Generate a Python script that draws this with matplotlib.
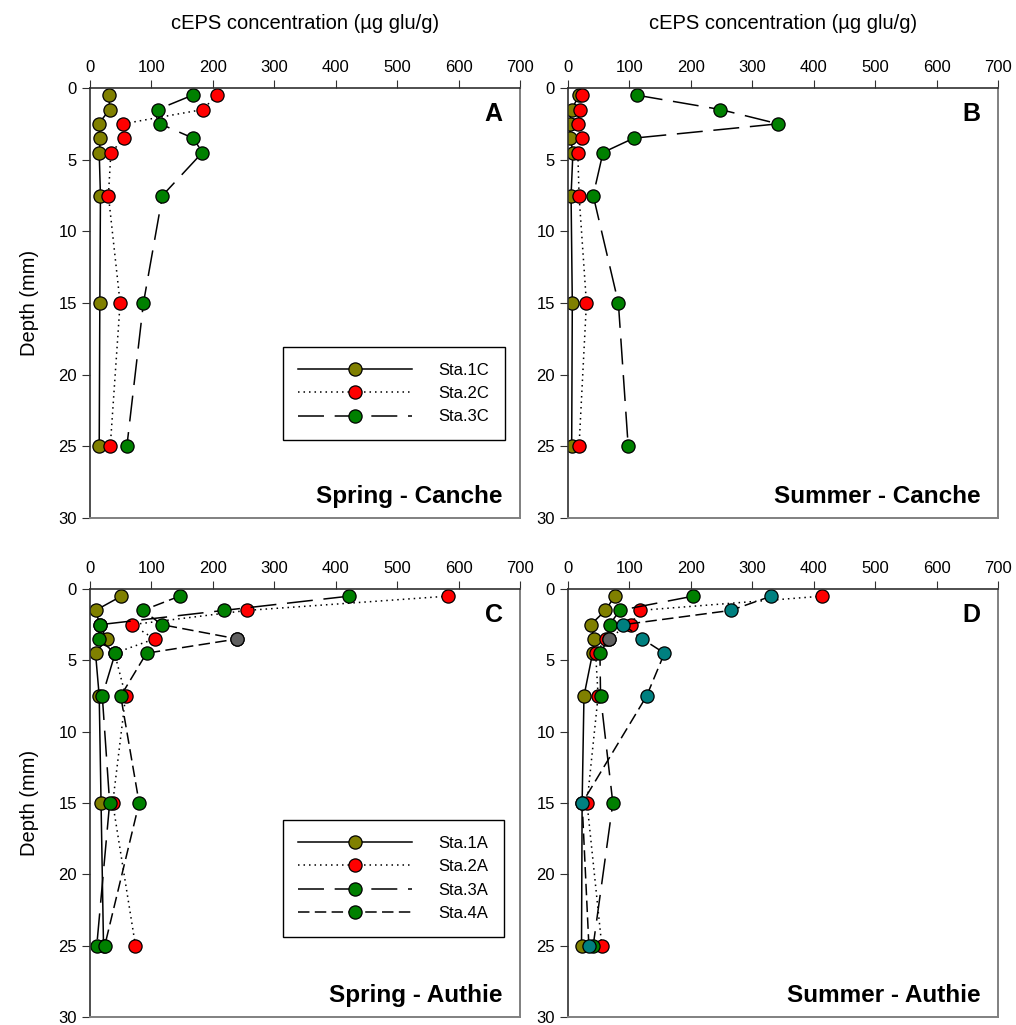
import matplotlib
matplotlib.use("Agg")
import matplotlib.pyplot as plt

plt.rcParams['font.family'] = ['Liberation Sans', 'DejaVu Sans']

depth = [0.5, 1.5, 2.5, 3.5, 4.5, 7.5, 15, 25]

# Spring - Canche
a_sta1c = [31, 32, 14, 17, 15, 17, 16, 15]
a_sta2c = [206, 184, 54, 56, 34, 30, 49, 33]
a_sta3c = [167, 110, 114, 168, 183, 118, 87, 60]

# Summer - Canche
b_sta1c = [18, 6, 3, 4, 8, 5, 7, 6]
b_sta2c = [23, 19, 16, 22, 16, 18, 30, 18]
b_sta3c = [112, 248, 342, 107, 57, 41, 82, 98]

# Spring - Authie
c_sta1a = [51, 9, 16, 27, 9, 15, 18, 22]
c_sta2a = [583, 256, 68, 105, 40, 58, 37, 74]
c_sta3a = [422, 218, 16, 14, 41, 20, 32, 11]
c_sta4a = [146, 86, 117, 240, 92, 50, 80, 24]

# Summer - Authie
d_sta1a = [76, 61, 37, 43, 40, 26, 23, 22]
d_sta2a = [414, 117, 102, 62, 45, 49, 31, 55]
d_sta3a = [204, 84, 68, 66, 52, 53, 73, 41]
d_sta4a = [331, 265, 90, 121, 157, 128, 23, 34]

OLIVE = '#808000'
RED = '#ff0000'
GREEN = '#008000'
TEAL = '#008080'
GREY = '#606060'

LS = ['-', (0, (1, 2.6)), (0, (17, 7)), (0, (7.5, 3.5))]
MS = 9.5

fig = plt.figure(figsize=(10.16, 10.25), dpi=100)
W, H = 1016, 1025


def add_ax(x0, y0, x1, y1):
    return fig.add_axes([x0 / W, 1 - y1 / H, (x1 - x0) / W, (y1 - y0) / H])


def style(ax, letter, title, ylabel):
    ax.set_xlim(0, 700)
    ax.set_ylim(30, 0)
    ax.set_xticks(range(0, 701, 100))
    ax.set_yticks(range(0, 31, 5))
    ax.xaxis.tick_top()
    ax.tick_params(axis='both', direction='out', length=6, labelsize=12,
                   color='#303030', labelcolor='black')
    for s in ['top', 'left']:
        ax.spines[s].set_color('#303030')
        ax.spines[s].set_linewidth(1.2)
    for s in ['bottom', 'right']:
        ax.spines[s].set_color('#808080')
        ax.spines[s].set_linewidth(1.4)
    if ylabel:
        ax.set_ylabel('Depth (mm)', fontsize=14.5, labelpad=14)
    ax.text(0.96, 0.94, letter, transform=ax.transAxes, ha='right',
            va='center', fontsize=18, fontweight='bold')
    ax.text(0.96, 0.05, title, transform=ax.transAxes, ha='right',
            va='center', fontsize=17.5, fontweight='bold')


def series(ax, vals, ls, color, label):
    ax.plot(vals, depth, linestyle=ls, color='black', lw=1.1,
            marker='o', ms=MS, mfc=color, mec='black', mew=0.9,
            label=label)


def add_legend(ax, top):
    lg = ax.legend(loc='upper left', bbox_to_anchor=(0.448, top),
                   borderaxespad=0, fontsize=12, handlelength=6.8,
                   handletextpad=1.6, borderpad=0.95, labelspacing=0.5,
                   fancybox=False, edgecolor='black', framealpha=1)
    lg.get_frame().set_linewidth(1.0)


axA = add_ax(90, 88, 520, 518)
series(axA, a_sta1c, LS[0], OLIVE, 'Sta.1C')
series(axA, a_sta2c, LS[1], RED, 'Sta.2C')
series(axA, a_sta3c, LS[2], GREEN, 'Sta.3C')
style(axA, 'A', 'Spring - Canche', True)
axA.set_xlabel('cEPS concentration (µg glu/g)', fontsize=14.5, labelpad=22)
axA.xaxis.set_label_position('top')
add_legend(axA, 0.398)

axB = add_ax(568, 88, 998, 518)
series(axB, b_sta1c, LS[0], OLIVE, 'Sta.1C')
series(axB, b_sta2c, LS[1], RED, 'Sta.2C')
series(axB, b_sta3c, LS[2], GREEN, 'Sta.3C')
style(axB, 'B', 'Summer - Canche', False)
axB.set_xlabel('cEPS concentration (µg glu/g)', fontsize=14.5, labelpad=22)
axB.xaxis.set_label_position('top')

axC = add_ax(90, 589, 520, 1017)
series(axC, c_sta1a, LS[0], OLIVE, 'Sta.1A')
series(axC, c_sta2a, LS[1], RED, 'Sta.2A')
series(axC, c_sta3a, LS[2], GREEN, 'Sta.3A')
series(axC, c_sta4a, LS[3], GREEN, 'Sta.4A')
axC.plot([c_sta4a[3]], [depth[3]], 'o', ms=MS, mfc=GREY, mec='black',
         mew=0.9)
style(axC, 'C', 'Spring - Authie', True)
add_legend(axC, 0.46)

axD = add_ax(568, 589, 998, 1017)
series(axD, d_sta1a, LS[0], OLIVE, 'Sta.1A')
series(axD, d_sta2a, LS[1], RED, 'Sta.2A')
series(axD, d_sta3a, LS[2], GREEN, 'Sta.3A')
series(axD, d_sta4a, LS[3], TEAL, 'Sta.4A')
axD.plot([d_sta3a[3]], [depth[3]], 'o', ms=MS, mfc=GREY, mec='black',
         mew=0.9)
style(axD, 'D', 'Summer - Authie', False)

fig.savefig('out.png', dpi=100)
